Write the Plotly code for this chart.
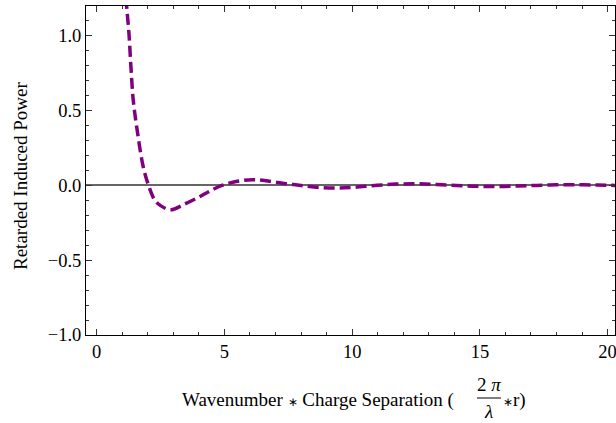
import plotly.graph_objects as go

# values
x_vals = [1.10, 1.17, 1.26, 1.34, 1.43, 1.60, 1.82, 2.03, 2.28, 2.50, 2.90, 3.40, 4.00, 4.40, 4.90,
          5.50, 6.10, 6.70, 7.40, 8.00, 8.70, 9.40, 10.1, 10.9, 11.7, 12.5, 13.3, 14.1, 14.9,
          15.7, 16.5, 17.2, 18.0, 18.8, 19.6, 20.3]
y_vals = [1.36, 1.20, 1.02, 0.79, 0.57, 0.35, 0.125, 0.0, -0.10, -0.135, -0.163, -0.128, -0.078, -0.04, 0.0,
          0.028, 0.038, 0.030, 0.012, 0.0, -0.013, -0.017, -0.012, 0.0, 0.009, 0.011, 0.007, 0.0, -0.006,
          -0.007, -0.004, 0.0, 0.004, 0.005, 0.003, 0.0]

x_ticks = [0, 5, 10, 15, 20]
y_ticks = [-1.0, -0.5, 0.0, 0.5, 1.0]
y_tick_text = ["\u22121.0", "\u22120.5", "0.0", "0.5", "1.0"]

W, H = 616, 423
L, R, T, B = 86, 1, 6, 88
pw, ph = W - L - R, H - T - B

def px(xp):
    return (xp - L) / pw

def py(yp):
    return (H - B - yp) / ph

FONT = "Liberation Serif"

fig = go.Figure()
fig.add_trace(go.Scatter(
    x=x_vals, y=y_vals, mode="lines", line_shape="spline",
    line=dict(color="#800080", width=3.5, dash="11px,5px"),
    showlegend=False, hoverinfo="skip",
))

axis_common = dict(
    showline=True, linecolor="black", linewidth=1, mirror="ticks",
    ticks="inside", ticklen=6, tickcolor="#333", tickwidth=1,
    showgrid=False, automargin=False, ticklabeloverflow="allow",
    tickfont=dict(family=FONT, size=18.5, color="black"),
)

fig.update_xaxes(
    range=[-0.42, 20.29], tickvals=x_ticks, ticktext=[str(v) for v in x_ticks],
    zeroline=False,
    minor=dict(dtick=1, ticks="inside", ticklen=3, tickcolor="#333", showgrid=False),
    **axis_common,
)
fig.update_yaxes(
    range=[-1.0, 1.2], tickvals=y_ticks, ticktext=y_tick_text,
    zeroline=True, zerolinecolor="#666", zerolinewidth=1.5,
    minor=dict(dtick=0.1, ticks="inside", ticklen=3, tickcolor="#333", showgrid=False),
    **axis_common,
)

tf = dict(family=FONT, size=19, color="black")
star = "<span style='font-size:12px'>\u2217</span>"
ann = [
    dict(x=px(20), y=py(176), text="Retarded Induced Power", textangle=-90, xanchor="center", yanchor="middle",
         showarrow=False, font=dict(family=FONT, size=19, color="black")),
    dict(x=px(456), y=py(400), text="Wavenumber " + star + " Charge Separation (", xanchor="right", yanchor="middle",
         showarrow=False, font=tf),
    dict(x=px(489), y=py(384), text="2 <i>\u03c0</i>", xanchor="center", yanchor="middle", showarrow=False, font=tf),
    dict(x=px(488), y=py(411), text="<i>\u03bb</i>", xanchor="center", yanchor="middle", showarrow=False, font=tf),
    dict(x=px(501), y=py(400), text=star + "r)", xanchor="left", yanchor="middle", showarrow=False, font=tf),
]
for a in ann:
    a.update(xref="paper", yref="paper")
fig.update_layout(annotations=ann)
fig.add_shape(type="line", xref="paper", yref="paper", x0=px(477), x1=px(501), y0=py(398), y1=py(398),
              line=dict(color="black", width=1))

fig.update_layout(
    width=W, height=H, margin=dict(l=L, r=R, t=T, b=B),
    paper_bgcolor="white", plot_bgcolor="white",
)
fig.write_html("out.html", config={"displayModeBar": False},
               post_script="document.body.style.margin='0';document.body.style.overflow='hidden';")
